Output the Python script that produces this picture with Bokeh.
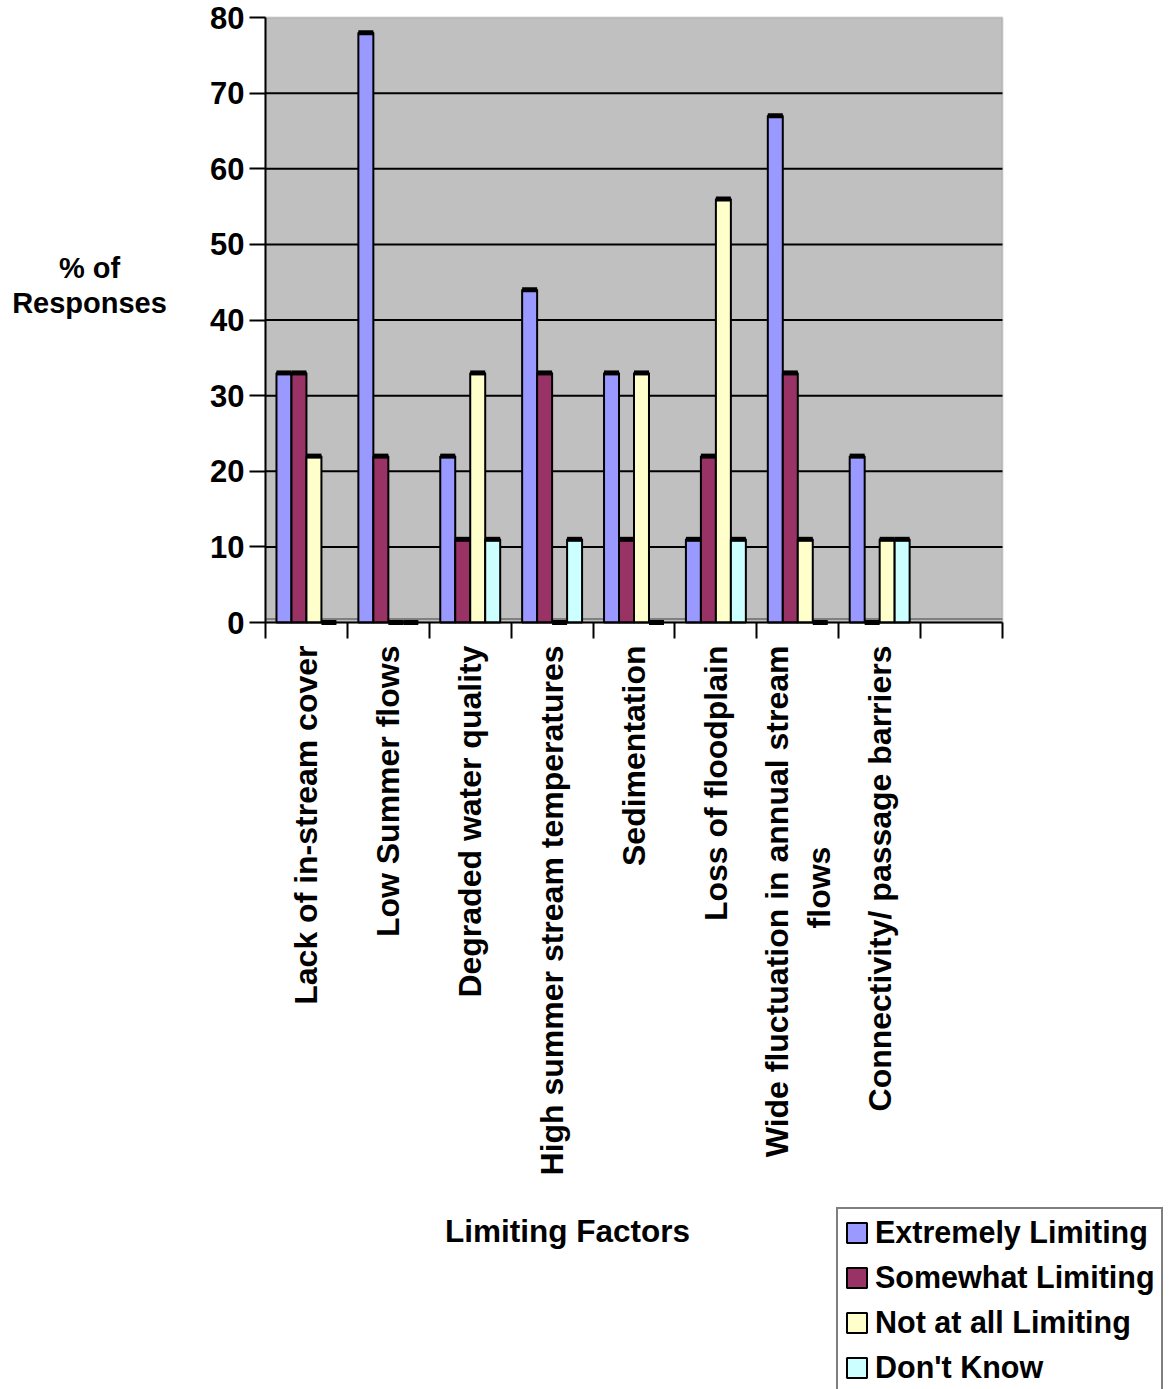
import math
from bokeh.plotting import figure
from bokeh.models import (ColumnDataSource, FixedTicker, Label, Legend, LegendItem, Range1d,
                          LinearAxis, BoxAnnotation)
from bokeh.embed import file_html
from bokeh.resources import INLINE

categories = [
    "Lack of in-stream cover",
    "Low Summer flows",
    "Degraded water quality",
    "High summer stream temperatures",
    "Sedimentation",
    "Loss of floodplain",
    "Wide fluctuation in annual stream flows",
    "Connectivity/ passage barriers",
]
n_slots = 9  # last slot is empty in the original chart

series_names = ["Extremely Limiting", "Somewhat Limiting", "Not at all Limiting", "Don't Know"]
extremely = [33, 78, 22, 44, 33, 11, 67, 22]
somewhat = [33, 22, 11, 33, 11, 22, 33, 0]
not_at_all = [22, 0, 33, 0, 33, 56, 11, 11]
dont_know = [0, 0, 11, 11, 0, 11, 0, 11]
colors = ["#9999FF", "#993366", "#FFFFCC", "#CCFFFF"]
y_ticks = [0, 10, 20, 30, 40, 50, 60, 70, 80]
y_max = 80

FONT = "Liberation Sans"
W, H = 1170, 1389
# plot-area placement on the canvas (pixels)
PL, PR, PT, PB = 265, 1002, 17, 622
ppx = (PR - PL) / n_slots
ppy = (PB - PT) / y_max


def dx(px):
    return (px - PL) / ppx


def dy(py):
    return (PB - py) / ppy


p = figure(width=W, height=H, output_backend="svg", toolbar_location=None,
           x_range=Range1d(dx(0), dx(W)), y_range=Range1d(dy(H), dy(0)),
           x_axis_location=None, y_axis_location=None,
           min_border=0, min_border_left=0, min_border_right=0,
           min_border_top=0, min_border_bottom=0)
p.title.visible = False
p.xgrid.visible = False
p.ygrid.visible = False
p.outline_line_color = None
p.background_fill_color = "white"
p.border_fill_color = "white"

# grey plot area with grey top/right border
p.add_layout(BoxAnnotation(left=0, right=n_slots, bottom=0, top=y_max, level="underlay",
                           fill_color="#C0C0C0", fill_alpha=1.0,
                           line_color="#808080", line_width=2))

# horizontal grid lines across the plot area
inner = [t for t in y_ticks if 0 < t < y_max]
p.segment(x0=[0] * len(inner), x1=[n_slots] * len(inner), y0=inner, y1=inner,
          line_color="black", line_width=2)
# darker grey floor line just above the base
p.segment(x0=[0], x1=[n_slots], y0=[0.45], y1=[0.45], line_color="#808080", line_width=2)

bw = 0.183
renderers = []
for k, (vals, col) in enumerate(zip([extremely, somewhat, not_at_all, dont_know], colors)):
    xs = [i + 0.5 + (k - 1.5) * bw for i in range(len(categories))]
    src = ColumnDataSource(dict(x=xs, top=vals,
                                x0=[x - bw / 2 for x in xs], x1=[x + bw / 2 for x in xs]))
    r = p.vbar(x="x", top="top", bottom=0, width=bw, source=src,
               fill_color=col, line_color="black", line_width=2)
    p.segment(x0="x0", x1="x1", y0="top", y1="top", source=src,
              line_color="black", line_width=5)
    renderers.append(r)

# y axis
ya = LinearAxis(fixed_location=0, bounds=(0, y_max), ticker=FixedTicker(ticks=y_ticks))
ya.axis_line_color = "black"
ya.axis_line_width = 2
ya.major_tick_line_color = "black"
ya.major_tick_line_width = 2
ya.major_tick_out = 16
ya.major_tick_in = 0
ya.minor_tick_line_color = None
ya.major_label_standoff = 5
ya.major_label_text_font = FONT
ya.major_label_text_font_style = "bold"
ya.major_label_text_font_size = "31px"
ya.major_label_text_color = "black"
p.add_layout(ya, "left")

# x axis: category names at slot centres, slot boundaries as minor ticks.
# The 7th name wraps: first line left of the slot centre, "flows" right of it.
wrap_idx = 6
first_line, last_word = categories[wrap_idx].rsplit(" ", 1)
tick_pos = [i + 0.5 for i in range(len(categories))]
tick_pos[wrap_idx] = wrap_idx + 0.5 - 21 / ppx
labels = {t: c for t, c in zip(tick_pos, categories)}
labels[tick_pos[wrap_idx]] = first_line

xa = LinearAxis(fixed_location=0, bounds=(0, n_slots),
                ticker=FixedTicker(ticks=tick_pos, minor_ticks=list(range(n_slots + 1))))
xa.major_label_overrides = labels
xa.major_label_orientation = math.pi / 2
xa.axis_line_color = "black"
xa.axis_line_width = 2
xa.major_tick_line_color = None
xa.major_tick_out = 16
xa.major_tick_in = 0
xa.minor_tick_line_color = "black"
xa.minor_tick_line_width = 2
xa.minor_tick_out = 16
xa.minor_tick_in = 0
xa.major_label_standoff = 7
xa.major_label_text_font = FONT
xa.major_label_text_font_style = "bold"
xa.major_label_text_font_size = "32px"
xa.major_label_text_color = "black"
p.add_layout(xa, "below")

p.add_layout(Label(x=wrap_idx + 0.5 + 21 / ppx, y=dy(887), angle=math.pi / 2,
                   text=last_word, text_align="center", text_baseline="middle",
                   text_font=FONT, text_font_style="bold", text_font_size="32px",
                   text_color="black"))

# axis titles
p.add_layout(Label(x=dx(89), y=dy(285),
                   text="% of\nResponses", text_align="center", text_baseline="middle",
                   text_font=FONT, text_font_style="bold", text_font_size="29px",
                   text_line_height=1.12, text_color="black"))
p.add_layout(Label(x=dx(567), y=dy(1230),
                   text="Limiting Factors", text_align="center", text_baseline="middle",
                   text_font=FONT, text_font_style="bold", text_font_size="31.5px",
                   text_color="black"))

legend = Legend(items=[LegendItem(label=n, renderers=[r]) for n, r in zip(series_names, renderers)],
                location=(836, -4), orientation="vertical",
                border_line_color="black", border_line_width=2, background_fill_color="white",
                background_fill_alpha=1.0, padding=6, spacing=10, margin=0,
                label_height=34, glyph_height=25, glyph_width=25, label_standoff=6,
                label_text_font=FONT, label_text_font_style="bold", label_text_font_size="30.5px",
                label_text_color="black")
p.add_layout(legend)

open("out.html", "w").write(file_html(p, INLINE))
